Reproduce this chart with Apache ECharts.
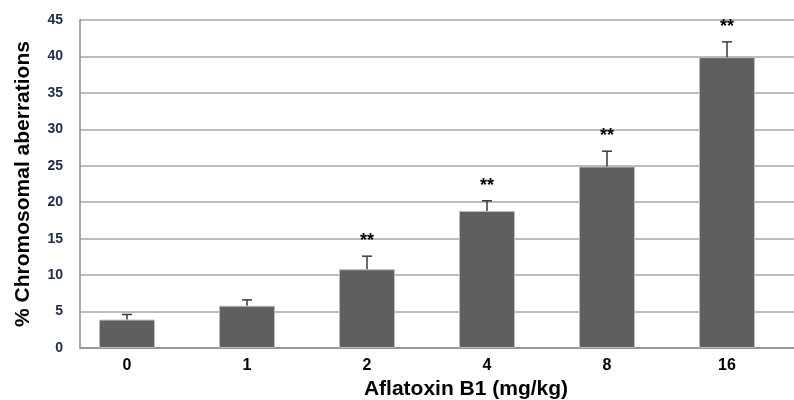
<!DOCTYPE html>
<html>
  <head>
    <meta charset="utf-8">
    <title>Chromosomal aberrations</title>
    <script src="https://cdn.jsdelivr.net/npm/echarts@6/dist/echarts.min.js"></script>
  </head>
  <body style="margin:0;background:#fff;">
    <div id="main" style="width:794px;height:400px;"></div>
    <script>
// data
var doses = ['0', '1', '2', '4', '8', '16'];
var meanValues = [3.9, 5.8, 10.8, 18.8, 24.9, 39.9];
var errTops = [4.6, 6.6, 12.6, 20.2, 27.0, 42.0];
var marks = ['', '', '**', '**', '**', '**'];
var yTicks = [0, 5, 10, 15, 20, 25, 30, 35, 40, 45];

var myChart = echarts.init(document.getElementById('main'));

var errData = doses.map(function (d, i) {
  return [i, meanValues[i], errTops[i], marks[i]];
});

myChart.setOption({
  animation: false,
  title: {
    text: 'Aflatoxin B1 (mg/kg)',
    left: 461,
    top: 374,
    textAlign: 'center',
    textStyle: { fontFamily: 'Liberation Sans', fontSize: 21, fontWeight: 'bold', color: '#000' }
  },
  grid: [
    // bars
    { left: 67, right: 7, top: 20, bottom: 52 },
    // axes + gridlines
    { left: 80, right: 0, top: 20, bottom: 52 }
  ],
  xAxis: [{
    gridIndex: 0,
    type: 'category',
    data: doses,
    axisLine: { show: false },
    axisTick: { show: false },
    axisLabel: {
      margin: 10,
      fontFamily: 'Liberation Sans', fontSize: 16, fontWeight: 'bold', color: '#000'
    }
  }, {
    gridIndex: 1,
    type: 'value',
    min: 0, max: 1,
    axisLine: { show: true, lineStyle: { color: '#8c8c8c', width: 1.5 } },
    axisTick: { show: false },
    axisLabel: { show: false },
    splitLine: { show: false }
  }],
  yAxis: [{
    gridIndex: 0,
    type: 'value',
    min: 0, max: 45, interval: 5,
    show: false
  }, {
    gridIndex: 1,
    type: 'value',
    min: yTicks[0], max: yTicks[yTicks.length - 1], interval: 5,
    name: '% Chromosomal aberrations',
    nameLocation: 'middle',
    nameGap: 46,
    nameTextStyle: { fontFamily: 'Liberation Sans', fontSize: 21, fontWeight: 'bold', color: '#000' },
    axisLine: { show: true, lineStyle: { color: '#8c8c8c', width: 1.5 } },
    axisTick: { show: false },
    axisLabel: {
      margin: 17,
      fontFamily: 'Liberation Sans', fontSize: 14, fontWeight: 'bold', color: '#1f2a48'
    },
    splitLine: { lineStyle: { color: '#a6a6a6', width: 1.5 } }
  }],
  series: [{
    type: 'bar',
    xAxisIndex: 0,
    yAxisIndex: 0,
    data: meanValues,
    barWidth: 56,
    itemStyle: { color: '#5f5f5f', borderColor: '#bdbdbd', borderWidth: 1 },
    z: 3
  }, {
    type: 'custom',
    xAxisIndex: 0,
    yAxisIndex: 0,
    data: errData,
    z: 4,
    renderItem: function (params, api) {
      var base = api.coord([api.value(0), api.value(1)]);
      var top = api.coord([api.value(0), api.value(2)]);
      var st = { stroke: '#3a3a3a', lineWidth: 1.5 };
      var kids = [
        { type: 'line', shape: { x1: base[0], y1: base[1], x2: top[0], y2: top[1] }, style: st },
        { type: 'line', shape: { x1: top[0] - 5, y1: top[1], x2: top[0] + 5, y2: top[1] }, style: st }
      ];
      var txt = marks[params.dataIndex];
      if (txt) {
        kids.push({
          type: 'text',
          style: {
            text: txt, x: top[0], y: top[1] - 6,
            align: 'center', verticalAlign: 'bottom',
            font: 'bold 18px "Liberation Sans"', fill: '#000'
          }
        });
      }
      return { type: 'group', children: kids };
    }
  }]
});
    </script>
  </body>
</html>
